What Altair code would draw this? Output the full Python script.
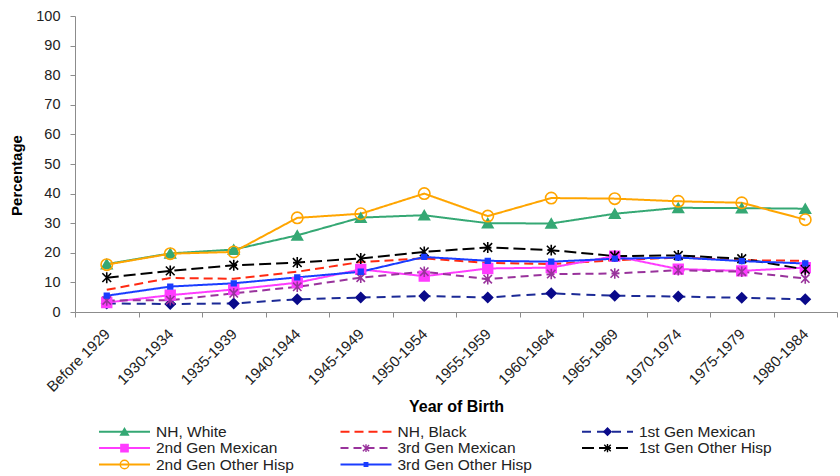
import altair as alt
import pandas as pd

# Birth cohorts on the x axis
categories = [
    "Before 1929", "1930-1934", "1935-1939", "1940-1944", "1945-1949", "1950-1954",
    "1955-1959", "1960-1964", "1965-1969", "1970-1974", "1975-1979", "1980-1984",
]

# Series names, in drawing / legend order
series_names = [
    "NH, White", "NH, Black", "1st Gen Mexican",
    "2nd Gen Mexican", "3rd Gen Mexican", "1st Gen Other Hisp",
    "2nd Gen Other Hisp", "3rd Gen Other Hisp",
]

# Percentage values per cohort
nh_white = [16.2, 19.8, 21.1, 25.9, 31.9, 32.7, 30.0, 29.9, 33.2, 35.2, 35.1, 34.9]
nh_black = [7.5, 11.5, 11.2, 13.6, 16.9, 18.1, 16.6, 16.2, 17.5, 18.4, 17.5, 17.3]
gen1_mex = [2.9, 2.7, 2.9, 4.3, 4.9, 5.4, 4.9, 6.3, 5.5, 5.2, 4.8, 4.3]
gen2_mex = [3.2, 5.7, 7.6, 9.9, 14.4, 12.1, 14.7, 15.0, 18.9, 14.5, 13.9, 15.0]
gen3_mex = [3.9, 4.0, 6.3, 8.5, 11.6, 13.6, 11.1, 12.8, 13.0, 14.1, 13.6, 11.3]
gen1_oh = [11.6, 13.9, 15.8, 16.7, 18.1, 20.3, 21.8, 20.9, 18.9, 19.1, 18.0, 14.4]
gen2_oh = [16.0, 19.7, 20.3, 31.8, 33.2, 40.0, 32.4, 38.5, 38.3, 37.4, 36.9, 31.2]
gen3_oh = [5.5, 8.6, 9.7, 11.7, 13.6, 18.6, 17.3, 17.0, 18.0, 18.4, 17.2, 16.4]

all_values = [nh_white, nh_black, gen1_mex, gen2_mex, gen3_mex, gen1_oh, gen2_oh, gen3_oh]

# Y-axis tick values
y_ticks = [0.0, 10.0, 20.0, 30.0, 40.0, 50.0, 60.0, 70.0, 80.0, 90.0, 100.0]

# Styling per series (marker None = line only)
line_colors = ["#35a874", "#ff2a12", "#1c2a96", "#ff3cff", "#99339c", "#000000", "#ffa500", "#1a3cff"]
marker_fills = ["#35a874", None, "#0a0a8a", "#ff3cff", "transparent", "transparent", "transparent", "#1a3cff"]
marker_strokes = ["#35a874", None, "#0a0a8a", "#ff3cff", "#99339c", "#000000", "#ffa500", "#1a3cff"]
dashes = [[1, 0], [9, 5], [9, 6], [1, 0], [8, 5], [12, 5], [1, 0], [1, 0]]
asterisk = "M-0.8,-0.8L0.8,0.8M-0.8,0.8L0.8,-0.8M0,-1L0,1"
shapes = ["triangle-up", None, "diamond", "square", asterisk, asterisk, "circle", "square"]
sizes = [110, 0, 95, 95, 110, 120, 130, 22]

rows = []
for name, vals in zip(series_names, all_values):
    for cat, v in zip(categories, vals):
        rows.append({"series": name, "cohort": cat, "pct": v})
df = pd.DataFrame(rows)

legend_df = pd.DataFrame({
    "series": series_names,
    "col": [i % 3 for i in range(len(series_names))],
    "row": [i // 3 for i in range(len(series_names))],
})

W, H = 762, 296
FONT = "Liberation Sans"
AXIS_GREY = "#8c8c8c"
TEXT = "#222222"

color = alt.Color("series:N", scale=alt.Scale(domain=series_names, range=line_colors), legend=None)
dash = alt.StrokeDash("series:N", scale=alt.Scale(domain=series_names, range=dashes), legend=None)

x_scale = alt.Scale(type="band", paddingInner=0, paddingOuter=0)
y_scale = alt.Scale(domain=[0, 100], nice=False)

x_axis = alt.Axis(
    title="Year of Birth", labelAngle=-45, labelAlign="right", labelBaseline="middle",
    labelFontSize=15, labelColor=TEXT, labelPadding=14,
    tickBand="extent", tickSize=5, tickColor=AXIS_GREY, domainColor=AXIS_GREY,
    titleFontSize=16, titleFontWeight="bold", titleColor="#000000", titlePadding=4,
)
y_axis = alt.Axis(
    title="Percentage", values=y_ticks, tickCount=11, format="d", grid=False,
    labelOverlap=False, labelSeparation=0, labelBound=False,
    labelFontSize=14.5, labelColor=TEXT, labelPadding=10,
    tickSize=5, tickColor=AXIS_GREY, domainColor=AXIS_GREY,
    titleFontSize=15, titleFontWeight="bold", titleColor="#000000", titlePadding=11,
    titleY=159,
)

lines = alt.Chart(df).mark_line(strokeWidth=2).encode(
    x=alt.X("cohort:N", sort=categories, scale=x_scale, axis=x_axis),
    y=alt.Y("pct:Q", scale=y_scale, axis=y_axis),
    color=color, strokeDash=dash, detail="series:N",
)

# One marker layer per series, drawn in series order on the same cohort / percentage scales
marker_layers = []
for i, name in enumerate(series_names):
    if shapes[i] is None:
        continue
    marker_layers.append(
        alt.Chart(df).transform_filter(alt.datum.series == name).mark_point(
            shape=shapes[i], size=sizes[i], fill=marker_fills[i], stroke=marker_strokes[i],
            strokeWidth=1.6, opacity=1, filled=False,
        ).encode(
            x=alt.X("cohort:N", sort=categories, scale=x_scale, axis=None),
            y=alt.Y("pct:Q", scale=y_scale, axis=None),
        )
    )

# Legend laid out as a three-column grid below the plot
col_step = 241.5
leg_x = alt.Scale(domain=[0, 2], range=[24, 24 + 2 * col_step], nice=False, zero=False)
leg_y = alt.Scale(domain=[0, 2], range=[415.7, 448.5], nice=False, zero=False)
seg = 51 / col_step
legend_base = alt.Chart(legend_df).transform_calculate(
    x0="datum.col", x1=f"datum.col + {seg}", xm=f"datum.col + {seg / 2}",
    xt=f"datum.col + {57 / col_step}",
)
leg_lines = legend_base.mark_rule(strokeWidth=2).encode(
    x=alt.X("x0:Q", scale=leg_x, axis=None), x2="x1:Q",
    y=alt.Y("row:Q", scale=leg_y, axis=None),
    color=color, strokeDash=dash,
)
leg_marker_layers = []
for i, name in enumerate(series_names):
    if shapes[i] is None:
        continue
    leg_marker_layers.append(
        legend_base.transform_filter(alt.datum.series == name).mark_point(
            shape=shapes[i], size=sizes[i] * 0.55, fill=marker_fills[i], stroke=marker_strokes[i],
            strokeWidth=1.4, opacity=1, filled=False,
        ).encode(x=alt.X("xm:Q", scale=leg_x, axis=None), y=alt.Y("row:Q", scale=leg_y, axis=None))
    )
leg_text = legend_base.mark_text(align="left", baseline="middle", fontSize=15.5, color=TEXT).encode(
    x=alt.X("xt:Q", scale=leg_x, axis=None),
    y=alt.Y("row:Q", scale=leg_y, axis=None),
    text="series:N",
)

chart = alt.layer(
    lines, *marker_layers, leg_lines, *leg_marker_layers, leg_text
).resolve_scale(
    x="independent", y="independent"
).properties(
    width=W, height=H,
    autosize=alt.AutoSizeParams(type="none"),
    padding={"left": 75, "top": 16, "right": 3, "bottom": 164},
).configure(font=FONT).configure_view(stroke=None).configure_axisY(
    labelOverlap=False, tickCount=11
)

chart.save("out.html", embed_options={"renderer": "svg", "actions": False})
